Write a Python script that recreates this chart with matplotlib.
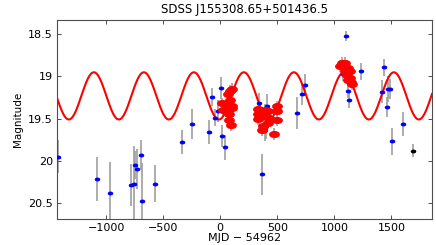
import numpy as np
import matplotlib
matplotlib.use("Agg")
import matplotlib.pyplot as plt

# blue photometry points: MJD-54962, magnitude, error
t_blue = [-1420, -1080, -963, -785, -754, -748, -727, -698, -686, -575,
          -336, -248, -96, -68, -47, -17, 4, 18, 44,
          336, 342, 363, 389, 398, 406, 675, 719, 745,
          1078, 1104, 1115, 1128, 1233, 1414, 1437, 1461, 1472, 1490, 1502, 1601]
m_blue = [19.95, 20.22, 20.38, 20.29, 20.27, 20.05, 20.10, 19.93, 20.48, 20.27,
          19.78, 19.56, 19.66, 19.245, 19.49, 19.41, 19.14, 19.71, 19.84,
          19.32, 19.48, 20.16, 19.64, 19.59, 19.355, 19.43, 19.21, 19.10,
          18.97, 18.52, 19.17, 19.275, 18.94, 19.18, 18.89, 19.36, 19.15, 19.15, 19.77, 19.56]
e_blue = [0.20, 0.26, 0.37, 0.25, 0.45, 0.17, 0.24, 0.18, 0.46, 0.22,
          0.14, 0.18, 0.14, 0.11, 0.10, 0.13, 0.13, 0.13, 0.15,
          0.12, 0.12, 0.24, 0.12, 0.15, 0.15, 0.19, 0.13, 0.13,
          0.08, 0.06, 0.08, 0.10, 0.10, 0.14, 0.10, 0.12, 0.15, 0.12, 0.16, 0.14]

# red (dense monitoring) points
t_red = [100, 85, 12, 85, 56, 100, 26, 50, 100, 79, 91, 70, 76,
         333, 363, 333, 392, 421, 407, 436, 377, 363, 421, 500, 500, 500, 470, 333,
         1064, 1093, 1049, 1122, 1137, 1108, 1137, 1143, 1093, 1122, 1152]
m_red = [19.15, 19.17, 19.32, 19.28, 19.35, 19.35, 19.395, 19.415, 19.375, 19.52, 19.58, 19.21, 19.45,
         19.385, 19.43, 19.45, 19.395, 19.415, 19.475, 19.51, 19.59, 19.64, 19.55, 19.355, 19.415, 19.52, 19.68, 19.50,
         18.84, 18.84, 18.88, 18.90, 18.94, 18.98, 19.02, 19.07, 18.94, 19.04, 19.09]
e_red = 0.07

# single black point
t_black = [1692]
m_black = [19.88]
e_black = [0.08]

# sinusoidal model
period = 438.0
t_peak = 207.0
m_mean = 19.23
amp = 0.28

xlim = (-1430, 1855)
ylim = (20.69, 18.33)

plt.rcParams['font.family'] = ['DejaVu Sans']

fig = plt.figure(figsize=(4.36, 2.45), dpi=100)
ax = fig.add_axes([0.1307, 0.1061, 0.8601, 0.8123])

th = np.linspace(0, 2 * np.pi, 40)
ell = list(zip(np.cos(th), 0.6 * np.sin(th)))

ax.errorbar(t_blue, m_blue, yerr=e_blue, fmt='none', ecolor='0.62', elinewidth=1.2, zorder=1)
ax.errorbar(t_red, m_red, yerr=e_red, fmt='none', ecolor='0.62', elinewidth=1.2, zorder=1)
ax.errorbar(t_black, m_black, yerr=e_black, fmt='none', ecolor='0.62', elinewidth=1.2, zorder=1)

tt = np.linspace(xlim[0], xlim[1], 800)
ax.plot(tt, m_mean - amp * np.cos(2 * np.pi * (tt - t_peak) / period), color='red', lw=1.5, zorder=2)

ax.plot(t_blue, m_blue, ls='none', marker=ell, ms=3.0, color='blue', mec='blue', zorder=3)
ax.plot(t_red, m_red, ls='none', marker=ell, ms=6.8, color='red', mec='red', zorder=4)
ax.plot(t_black, m_black, ls='none', marker=ell, ms=3.0, color='black', zorder=4)

ax.set_xlim(xlim)
ax.set_ylim(ylim)
ax.set_xticks([-1000, -500, 0, 500, 1000, 1500])
ax.set_yticks([18.5, 19, 19.5, 20, 20.5])
ax.set_yticklabels(['18.5', '19', '19.5', '20', '20.5'])
ax.tick_params(direction='in', length=3, width=0.7, top=True, right=True,
               labelsize=8, pad=3, color='0.3')
for s in ax.spines.values():
    s.set_color('0.3')
    s.set_linewidth(0.8)

ax.set_title('SDSS J155308.65+501436.5', fontsize=8.5, pad=5)
ax.set_xlabel('MJD \u2212 54962', fontsize=8, labelpad=0)
ax.set_ylabel('Magnitude', fontsize=7.5, labelpad=4)

fig.savefig('out.png', dpi=100)
